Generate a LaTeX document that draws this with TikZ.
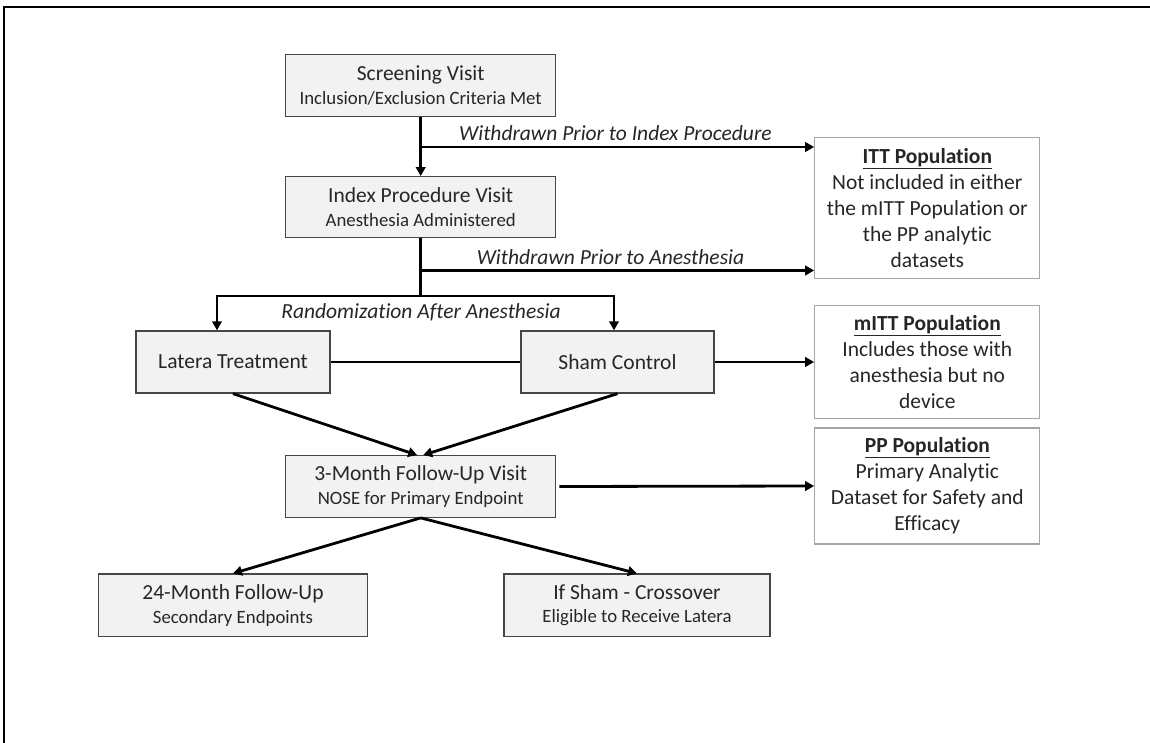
\documentclass[tikz,border=0pt]{standalone}
\usepackage{fontspec}
\setmainfont{Carlito}[Ligatures={NoCommon}]
\usetikzlibrary{arrows.meta}
\definecolor{txt}{RGB}{38,38,38}
\definecolor{boxfill}{RGB}{242,242,242}
\definecolor{boxdraw}{RGB}{70,70,70}
\definecolor{popdraw}{RGB}{165,165,165}
\newcommand\subsz{\fontsize{18.8}{23}\selectfont}
\begin{document}
\begin{tikzpicture}[x=1pt,y=-1pt,
  gbox/.style={draw=boxdraw, line width=1.3pt, fill=boxfill, inner sep=0pt, align=center,
    text=txt, font=\fontsize{21.5}{23.5}\selectfont},
  pbox/.style={draw=popdraw, line width=1.3pt, fill=white, inner sep=0pt, align=center,
    text=txt, minimum width=225pt, font=\fontsize{21.5}{26}\selectfont},
  conn/.style={line width=2.8pt, black},
  arr/.style={conn, -{Triangle[length=9pt,width=9.5pt]}},
  lbl/.style={font=\fontsize{21.5}{24}\selectfont\itshape, inner sep=0pt, text=txt},
]
\useasboundingbox (0,0) rectangle (1150,743);
\fill[white] (0,0) rectangle (1150,743);
\draw[line width=2.2pt] (4,743) -- (4,7) -- (1150,7);

% main flow boxes
\node[gbox, minimum width=270pt, minimum height=62pt] (screen) at (420.7,85.5)
  {Screening Visit\\{\subsz Inclusion/Exclusion Criteria Met}};
\node[gbox, minimum width=270pt, minimum height=61pt] (index) at (420.7,207.2)
  {Index Procedure Visit\\{\subsz Anesthesia Administered}};
\node[gbox, minimum width=194pt, minimum height=62pt] (latera) at (233,362)
  {Latera Treatment};
\node[gbox, minimum width=193pt, minimum height=62pt] (sham) at (617.5,362)
  {Sham Control};
\node[gbox, minimum width=270pt, minimum height=61.5pt] (m3) at (420.7,486.5)
  {3-Month Follow-Up Visit\\{\subsz NOSE for Primary Endpoint}};
\node[gbox, minimum width=269.5pt, minimum height=62.5pt] (m24) at (233,605.3)
  {24-Month Follow-Up\\{\subsz Secondary Endpoints}};
\node[gbox, minimum width=266pt, minimum height=62.5pt] (cross) at (637,605.3)
  {If Sham - Crossover\\{\subsz Eligible to Receive Latera}};

% population boxes
\node[pbox, minimum height=141pt] (itt) at (927.3,208.3)
  {\underline{\textbf{ITT Population}}\\Not included in either\\the mITT Population or\\the PP analytic\\datasets};
\node[pbox, minimum height=112.5pt] (mitt) at (927.3,362)
  {\underline{\textbf{mITT Population}}\\Includes those with\\anesthesia but no\\device};
\node[pbox, minimum height=116pt] (pp) at (927.3,486)
  {\underline{\textbf{PP Population}}\\Primary Analytic\\Dataset for Safety and\\Efficacy};

% connectors
\draw[arr] (screen.south) -- (index.north);
\coordinate (b1) at (420.7,147);
\draw[arr] (b1) -- (b1 -| itt.west)
  node[lbl, midway, above=5pt, xshift=-2pt] {Withdrawn Prior to Index Procedure};
\coordinate (b2) at (420.7,270.5);
\coordinate (bar) at (420.7,296);
\coordinate (barL) at (217,296);
\coordinate (barR) at (614,296);
\draw[conn] (index.south) -- (bar);
\draw[arr] (b2) -- (b2 -| itt.west)
  node[lbl, midway, above=4pt, xshift=-7pt] {Withdrawn Prior to Anesthesia};
\draw[arr] (bar) -- (barL) -- (barL |- latera.north);
\draw[arr] (bar) -- (barR) -- (barR |- sham.north);
\node[lbl, anchor=base] (rand) at (421,318) {Randomization After Anesthesia};

\draw[conn] (latera.east) -- (sham.west);
\draw[arr] (sham.east) -- (mitt.west);
\draw[arr] (latera.south) -- ([xshift=-3.5pt]m3.north);
\draw[arr] (sham.south) -- ([xshift=2.5pt]m3.north);
\draw[arr] ([xshift=3pt]m3.east) -- (pp.west);
\draw[arr] (m3.south) -- (m24.north);
\draw[arr] (m3.south) -- (cross.north);
\end{tikzpicture}
\end{document}
